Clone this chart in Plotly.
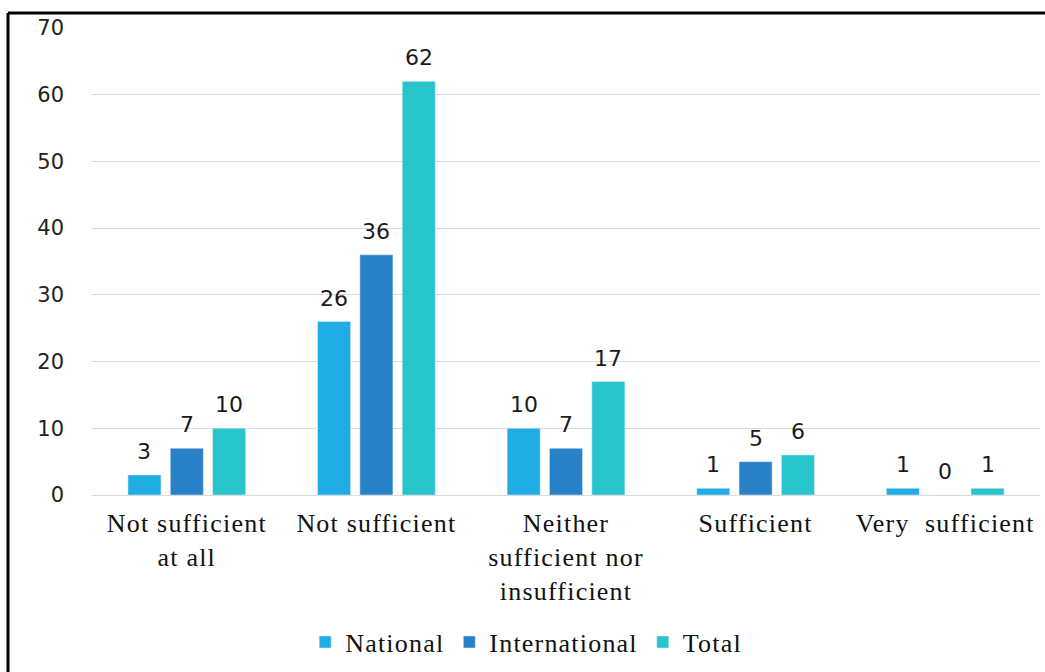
import plotly.graph_objects as go

categories = ["Not sufficient<br>at all", "Not sufficient", "Neither<br>sufficient nor<br>insufficient",
              "Sufficient", "Very  sufficient"]
national = [3, 26, 10, 1, 1]
international = [7, 36, 7, 5, 0]
total = [10, 62, 17, 6, 1]
series_names = ["National", "International", "Total"]
colors = ["#1FADE4", "#2981C8", "#28C4CB"]

W, H = 1045, 672
ML, MR, MT, MB = 92, 5, 28, 177
BARGAP = 0.33
SPACE = "letter-spacing:1.2px"


def stretched(s):
    return "<br>".join(f"<span style='{SPACE}'>{part}</span>" for part in s.split("<br>"))


fig = go.Figure()
all_series = [national, international, total]
n = len(all_series)
slot = (1 - BARGAP) / n
for k, (name, vals, col) in enumerate(zip(series_names, all_series, colors)):
    fig.add_trace(go.Bar(
        x=list(range(len(categories))), y=vals, name=stretched(name), marker_color=col,
    ))
    for i, v in enumerate(vals):
        fig.add_annotation(
            x=i + (k - (n - 1) / 2) * slot, y=v, xref="x", yref="y",
            text=str(v), showarrow=False, yanchor="bottom", xanchor="center", yshift=9,
            font=dict(family="DejaVu Sans", size=22, color="#1a1a1a"),
        )

pw = W - ML - MR
ph = H - MT - MB
bx0 = (8 - ML) / pw
by1 = 1 + (MT - 13) / ph
by0 = -(H - MT) / ph - 0.01
bx1 = 1 + MR / pw + 0.01
fig.add_shape(type="line", xref="paper", yref="paper", x0=bx0, x1=bx0, y0=by0, y1=by1,
              line=dict(color="black", width=3))
fig.add_shape(type="line", xref="paper", yref="paper", x0=bx0, x1=bx1, y0=by1, y1=by1,
              line=dict(color="black", width=3))

fig.update_layout(
    width=W, height=H,
    margin=dict(l=ML, r=MR, t=MT, b=MB),
    paper_bgcolor="white", plot_bgcolor="white",
    barmode="group", bargap=BARGAP, bargroupgap=0.22,
    showlegend=True,
    legend=dict(orientation="h", x=0.458, xanchor="center", y=-0.315, yanchor="middle",
                font=dict(family="Liberation Serif", size=26, color="#111111"),
                itemwidth=30, tracegroupgap=0),
    yaxis=dict(range=[0, 70], dtick=10, showgrid=True, gridcolor="#DADADA", gridwidth=1,
               zeroline=True, zerolinecolor="#DADADA", zerolinewidth=1,
               showline=False, ticks="", ticklabelstandoff=27,
               tickfont=dict(family="DejaVu Sans", size=21, color="#222222")),
    xaxis=dict(showline=False, ticks="", tickangle=0, ticklabelstandoff=10,
               range=[-0.5, len(categories) - 0.5],
               tickmode="array", tickvals=list(range(len(categories))),
               ticktext=[stretched(c) for c in categories],
               tickfont=dict(family="Liberation Serif", size=26, color="#111111")),
)

fig.write_html("out.html")
